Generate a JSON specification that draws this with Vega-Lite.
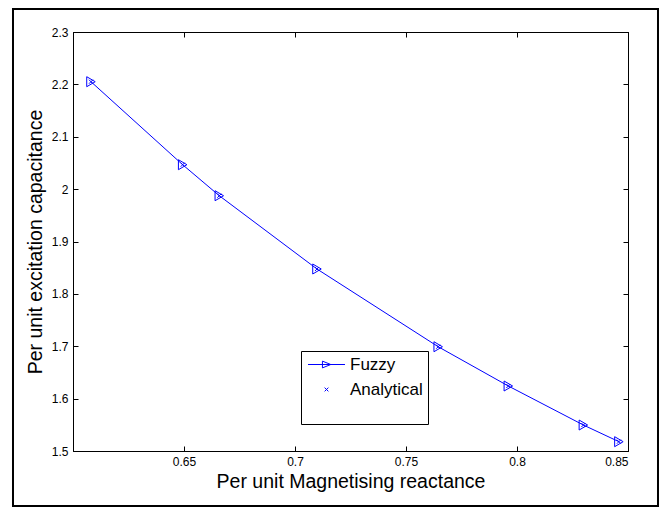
{
  "$schema": "https://vega.github.io/schema/vega-lite/v6.json",
  "width": 555,
  "height": 419,
  "autosize": {"type": "none"},
  "padding": {"left": 73, "top": 32, "right": 36, "bottom": 57},
  "background": "white",
  "config": {
    "view": {"stroke": "black", "strokeWidth": 1},
    "font": "Liberation Sans",
    "axis": {
      "grid": false,
      "domainColor": "black",
      "domainWidth": 1,
      "tickColor": "black",
      "tickWidth": 1,
      "tickSize": -5,
      "labelFont": "Liberation Sans",
      "labelFontSize": 12,
      "labelColor": "black",
      "titleFont": "Liberation Sans",
      "titleFontSize": 19.5,
      "titleFontWeight": "normal",
      "titleColor": "black"
    }
  },
  "data": {
    "values": [
      {"series": "Fuzzy", "reactance": 0.6081, "capacitance": 2.2051},
      {"series": "Fuzzy", "reactance": 0.6494, "capacitance": 2.0466},
      {"series": "Fuzzy", "reactance": 0.6659, "capacitance": 1.9874},
      {"series": "Fuzzy", "reactance": 0.7099, "capacitance": 1.8475},
      {"series": "Fuzzy", "reactance": 0.7645, "capacitance": 1.6991},
      {"series": "Fuzzy", "reactance": 0.7961, "capacitance": 1.6241},
      {"series": "Fuzzy", "reactance": 0.8299, "capacitance": 1.5496},
      {"series": "Fuzzy", "reactance": 0.8459, "capacitance": 1.5178},
      {"series": "Analytical", "reactance": 0.6081, "capacitance": 2.2051},
      {"series": "Analytical", "reactance": 0.6494, "capacitance": 2.0466},
      {"series": "Analytical", "reactance": 0.6659, "capacitance": 1.9874},
      {"series": "Analytical", "reactance": 0.7099, "capacitance": 1.8475},
      {"series": "Analytical", "reactance": 0.7645, "capacitance": 1.6991},
      {"series": "Analytical", "reactance": 0.7961, "capacitance": 1.6241},
      {"series": "Analytical", "reactance": 0.8299, "capacitance": 1.5496},
      {"series": "Analytical", "reactance": 0.8459, "capacitance": 1.5178}
    ]
  },
  "layer": [
    {
      "data": {"values": [{}]},
      "mark": {"type": "rect", "fillOpacity": 0, "stroke": "black", "strokeWidth": 2},
      "encoding": {
        "x": {
          "datum": 0.57297, "type": "quantitative",
          "scale": {"domain": [0.6, 0.85], "nice": false, "zero": false},
          "axis": {"orient": "top", "values": [0.65, 0.7, 0.75, 0.8, 0.85], "labels": false, "title": null}
        },
        "x2": {"datum": 0.86351},
        "y": {
          "datum": 2.34391, "type": "quantitative",
          "scale": {"domain": [1.5, 2.3], "nice": false, "zero": false},
          "axis": {"orient": "right", "values": [1.5, 1.6, 1.7, 1.8, 1.9, 2, 2.1, 2.2, 2.3], "labels": false, "title": null}
        },
        "y2": {"datum": 1.39499}
      }
    },
    {
      "transform": [{"filter": "datum.series === 'Fuzzy'"}],
      "mark": {"type": "line", "color": "#0000ff", "strokeWidth": 1},
      "encoding": {
        "x": {
          "field": "reactance", "type": "quantitative",
          "axis": {"orient": "bottom", "values": [0.65, 0.7, 0.75, 0.8, 0.85], "format": "~g", "labelPadding": 10, "title": "Per unit Magnetising reactance", "titlePadding": 5}
        },
        "y": {
          "field": "capacitance", "type": "quantitative",
          "axis": {"orient": "left", "values": [1.5, 1.6, 1.7, 1.8, 1.9, 2, 2.1, 2.2, 2.3], "format": "~g", "labelPadding": 10, "title": "Per unit excitation capacitance", "titlePadding": 6}
        }
      }
    },
    {
      "transform": [{"filter": "datum.series === 'Fuzzy'"}],
      "mark": {"type": "point", "shape": "M-0.85,-1L0.85,0L-0.85,1Z", "size": 100, "filled": false, "color": "#0000ff", "strokeWidth": 1, "opacity": 1},
      "encoding": {
        "x": {"field": "reactance", "type": "quantitative", "axis": null},
        "y": {"field": "capacitance", "type": "quantitative", "axis": null}
      }
    },
    {
      "transform": [{"filter": "datum.series === 'Analytical'"}],
      "mark": {"type": "point", "shape": "M-1,-1L1,1M-1,1L1,-1", "size": 16, "filled": false, "color": "#0000ff", "strokeWidth": 1, "opacity": 1},
      "encoding": {
        "x": {"field": "reactance", "type": "quantitative", "axis": null},
        "y": {"field": "capacitance", "type": "quantitative", "axis": null}
      }
    },
    {
      "mark": {"type": "point", "size": 81, "filled": false, "color": "#0000ff", "strokeWidth": 1, "opacity": 0},
      "encoding": {
        "x": {"field": "reactance", "type": "quantitative", "axis": null},
        "y": {"field": "capacitance", "type": "quantitative", "axis": null},
        "shape": {
          "field": "series", "type": "nominal",
          "scale": {
            "domain": ["Fuzzy", "Analytical"],
            "range": ["M-4.11,0L4.11,0M-0.9,-0.75L0.95,0L-0.9,0.75Z", "M-0.42,-0.42L0.42,0.42M-0.42,0.42L0.42,-0.42"]
          },
          "legend": {
            "orient": "none",
            "legendX": 228,
            "legendY": 319,
            "title": " ",
            "titleOrient": "bottom",
            "titleFontSize": 16,
            "titlePadding": 5,
            "strokeColor": "black",
            "fillColor": "white",
            "padding": 5,
            "cornerRadius": 0,
            "symbolSize": 81,
            "symbolStrokeWidth": 1,
            "symbolStrokeColor": "#0000ff",
            "symbolFillColor": "transparent",
            "symbolOpacity": 1,
            "symbolOffset": 12,
            "labelOffset": 15,
            "labelFont": "Liberation Sans",
            "labelFontSize": 17,
            "labelColor": "black",
            "labelExpr": "datum.label + '  '",
            "rowPadding": 7
          }
        }
      }
    }
  ],
  "resolve": {"axis": {"x": "independent", "y": "independent"}}
}
